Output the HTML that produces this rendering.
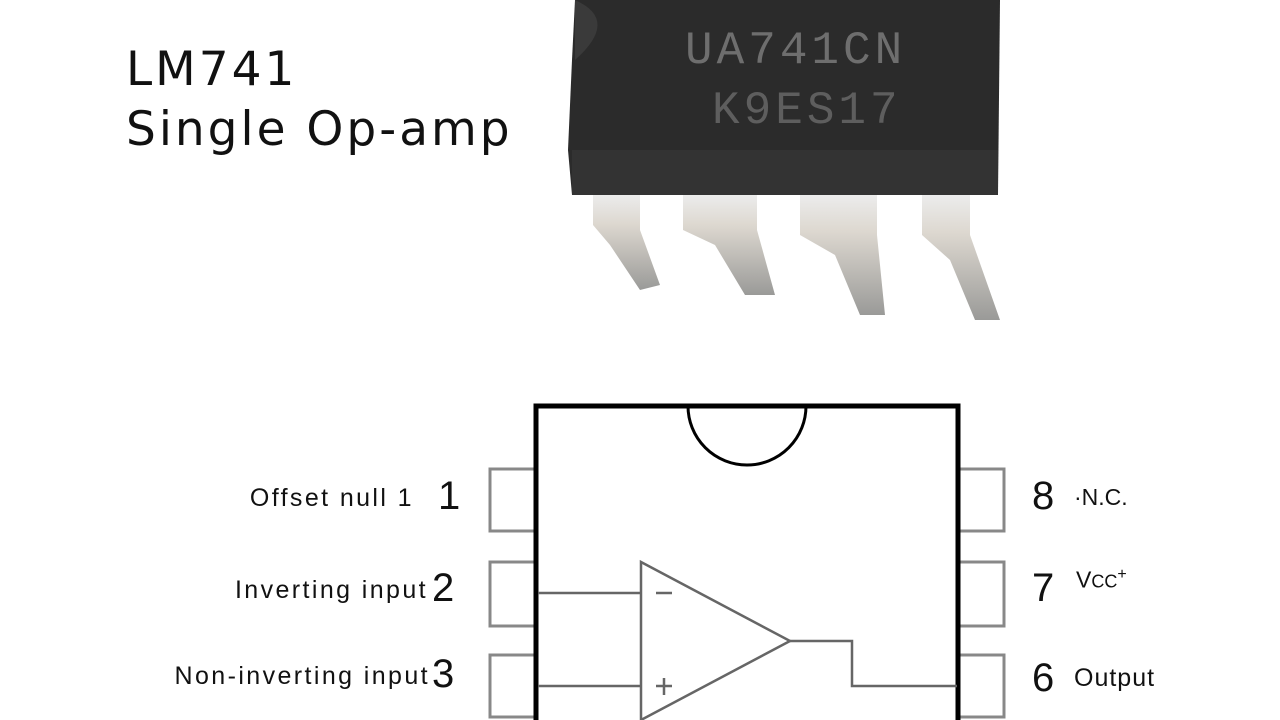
<!DOCTYPE html>
<html><head><style>
body{margin:0;width:1280px;height:720px;background:#fff;overflow:hidden;font-family:"Liberation Sans",sans-serif;position:relative}
.t{position:absolute;white-space:nowrap;color:#111}
.r{position:absolute;white-space:nowrap;color:#111;text-align:right;font-size:25px;letter-spacing:2.4px}
</style></head><body>
<div class="t" style="left:126px;top:40px;font-family:'DejaVu Sans',sans-serif;font-size:47px;line-height:60px;letter-spacing:3px">LM741<br>Single Op-amp</div>
<svg width="1280" height="720" style="position:absolute;left:0;top:0">
<defs><linearGradient id="pg" x1="0" y1="0" x2="0" y2="1"><stop offset="0" stop-color="#ececec"/><stop offset="0.3" stop-color="#ddd8d0"/><stop offset="1" stop-color="#9a9a98"/></linearGradient></defs>
<path d="M575 0 L1000 0 L998 195 L572 195 L568 150 L572 60 Z" fill="#2b2b2b"/>
<rect x="572" y="150" width="426" height="45" fill="#333"/>
<path d="M575 0 Q620 20 575 60" fill="#3a3a3a"/>
<text x="685" y="63" font-family="Liberation Mono,monospace" font-size="46" fill="#6e6e6e" letter-spacing="4">UA741CN</text>
<text x="712" y="123" font-family="Liberation Mono,monospace" font-size="46" fill="#5e5e5e" letter-spacing="4">K9ES17</text>
<g fill="url(#pg)">
<path d="M593 195 L640 195 L640 230 L660 285 L640 290 L610 245 L593 225 Z"/>
<path d="M683 195 L757 195 L757 230 L775 295 L745 295 L715 245 L683 230 Z"/>
<path d="M800 195 L877 195 L877 235 L885 315 L860 315 L835 255 L800 235 Z"/>
<path d="M922 195 L970 195 L970 235 L1000 320 L975 320 L950 260 L922 235 Z"/>
</g>
<g fill="#fff" stroke="#888" stroke-width="3">
<rect x="490" y="469" width="45" height="62"/>
<rect x="490" y="562" width="45" height="64"/>
<rect x="490" y="655" width="45" height="62"/>
<rect x="959" y="469" width="45" height="62"/>
<rect x="959" y="562" width="45" height="64"/>
<rect x="959" y="655" width="45" height="62"/>
</g>
<rect x="536" y="406" width="422" height="330" fill="#fff" stroke="#000" stroke-width="5"/>
<path d="M688 406 A59 59 0 0 0 806 406" fill="none" stroke="#000" stroke-width="3"/>
<g stroke="#666" stroke-width="2.5" fill="none">
<path d="M641 562 L790 641 L641 720 Z"/>
<path d="M538 593 L641 593"/>
<path d="M538 686 L641 686"/>
<path d="M790 641 L852 641 L852 686 L957 686"/>
<path d="M656 593 L672 593"/>
<path d="M656 686 L672 686 M664 678 L664 695"/>
</g>
</svg>
<div class="r" style="right:866px;top:484px">Offset null 1</div>
<div class="t" style="left:438px;top:474px;font-size:40px">1</div>
<div class="r" style="right:852px;top:576px">Inverting input</div>
<div class="t" style="left:432px;top:566px;font-size:40px">2</div>
<div class="r" style="right:850px;top:662px">Non-inverting input</div>
<div class="t" style="left:432px;top:652px;font-size:40px">3</div>
<div class="t" style="left:1032px;top:474px;font-size:40px">8</div>
<div class="t" style="left:1074px;top:484px;font-size:23px">·N.C.</div>
<div class="t" style="left:1032px;top:566px;font-size:40px">7</div>
<div class="t" style="left:1076px;top:566px;font-size:23px">V<span style="font-size:18px">CC</span><sup style="font-size:16px">+</sup></div>
<div class="t" style="left:1032px;top:656px;font-size:40px">6</div>
<div class="t" style="left:1074px;top:664px;font-size:25px;letter-spacing:1px">Output</div>
</body></html>
